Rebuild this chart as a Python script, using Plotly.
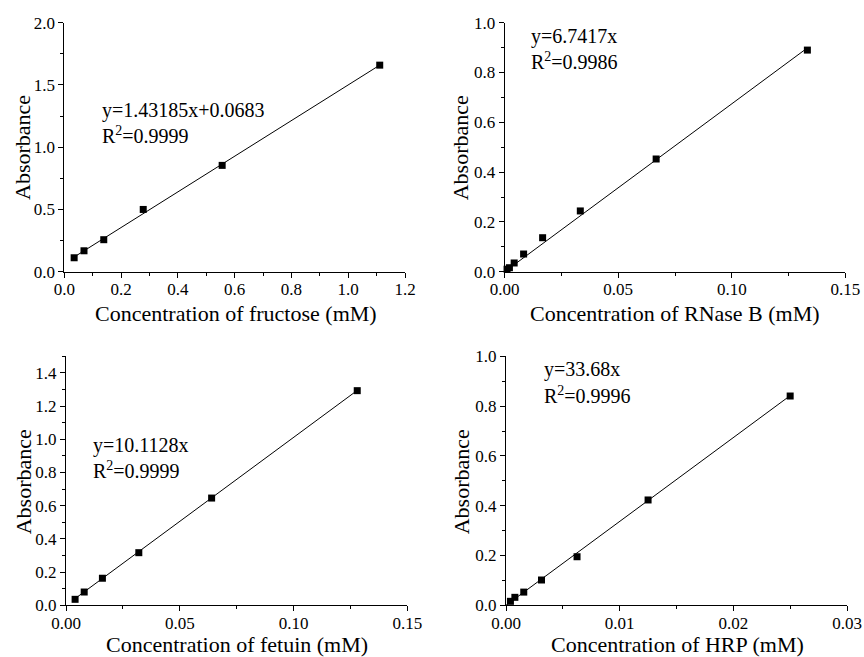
import plotly.graph_objects as go

# Calibration data: concentration (mM) and measured absorbance
fructose_conc = [0.0347, 0.0694, 0.139, 0.278, 0.556, 1.111]
fructose_abs = [0.112, 0.168, 0.257, 0.500, 0.854, 1.659]

rnase_conc = [0.00104, 0.00208, 0.00417, 0.00833, 0.0167, 0.0333, 0.0667, 0.1333]
rnase_abs = [0.010, 0.016, 0.035, 0.071, 0.1365, 0.244, 0.4526, 0.890]

fetuin_conc = [0.004, 0.008, 0.016, 0.032, 0.064, 0.128]
fetuin_abs = [0.036, 0.080, 0.163, 0.317, 0.646, 1.293]

hrp_conc = [0.00039, 0.00078, 0.0015625, 0.003125, 0.00625, 0.0125, 0.025]
hrp_abs = [0.016, 0.032, 0.053, 0.1016, 0.195, 0.423, 0.8405]

# Linear fits: slope, intercept, R^2, line start
fits = {
    "fructose": (1.43185, 0.0683, "0.9999", 0.0347),
    "rnase": (6.7417, 0.0, "0.9986", 0.0),
    "fetuin": (10.1128, 0.0, "0.9999", 0.004),
    "hrp": (33.68, 0.0, "0.9996", 0.0),
}

FONT = "Liberation Serif, Times New Roman, serif"
W, H = 864, 657


def px_x(v):
    return v / W


def px_y(v):
    return 1 - v / H


panels = [
    dict(key="fructose", x=fructose_conc, y=fructose_abs,
         xdom=(64.3, 405), ydom=(22.7, 271.7),
         xr=(0, 1.2), xd=0.2, yr=(0, 2.0), yd=0.5, xfmt=".1f", yfmt=".1f",
         xtitle="Concentration of fructose (mM)",
         eq="y=1.43185x+0.0683", eqpos=(100, 110, 135),
         ytpos=(22, 148), xtpos=(236, 313)),
    dict(key="rnase", x=rnase_conc, y=rnase_abs,
         xdom=(504.7, 845.3), ydom=(22.7, 271.7),
         xr=(0, 0.15), xd=0.05, yr=(0, 1.0), yd=0.2, xfmt=".2f", yfmt=".1f",
         xtitle="Concentration of RNase B (mM)",
         eq="y=6.7417x", eqpos=(528.7, 36.7, 61),
         ytpos=(460.3, 148), xtpos=(674.5, 313)),
    dict(key="fetuin", x=fetuin_conc, y=fetuin_abs,
         xdom=(66, 407.3), ydom=(356.3, 605.3),
         xr=(0, 0.15), xd=0.05, yr=(0, 1.5), yd=0.2, xfmt=".2f", yfmt=".1f",
         xtitle="Concentration of fetuin (mM)",
         eq="y=10.1128x", eqpos=(90.7, 445.3, 469.7),
         ytpos=(23.3, 482), xtpos=(237.2, 644)),
    dict(key="hrp", x=hrp_conc, y=hrp_abs,
         xdom=(506, 847), ydom=(356.3, 605.3),
         xr=(0, 0.03), xd=0.01, yr=(0, 1.0), yd=0.2, xfmt=".2f", yfmt=".1f",
         xtitle="Concentration of HRP (mM)",
         eq="y=33.68x", eqpos=(542, 369.7, 395.3),
         ytpos=(461.3, 482), xtpos=(677, 644)),
]

fig = go.Figure()
layout = dict(
    width=W, height=H,
    margin=dict(l=0, r=0, t=0, b=0, pad=0, autoexpand=False),
    paper_bgcolor="white", plot_bgcolor="white",
    showlegend=False,
    font=dict(family=FONT, color="black"),
)
annotations = []

for i, p in enumerate(panels, start=1):
    xa = "x" if i == 1 else f"x{i}"
    ya = "y" if i == 1 else f"y{i}"
    slope, icpt, r2, x0 = fits[p["key"]]
    x1 = p["x"][-1]
    fig.add_trace(go.Scatter(
        x=[x0, x1], y=[slope * x0 + icpt, slope * x1 + icpt],
        mode="lines", line=dict(color="black", width=1),
        xaxis=xa, yaxis=ya, hoverinfo="skip"))
    fig.add_trace(go.Scatter(
        x=p["x"], y=p["y"], mode="markers",
        marker=dict(symbol="square", size=7, color="black"),
        xaxis=xa, yaxis=ya, cliponaxis=False))

    common = dict(
        showline=True, linecolor="black", linewidth=1,
        ticks="outside", ticklen=5, tickwidth=1, tickcolor="black",
        showgrid=False, zeroline=False, mirror=False, automargin=False,
        tickfont=dict(family=FONT, size=17, color="black"),
    )
    xname = "xaxis" if i == 1 else f"xaxis{i}"
    yname = "yaxis" if i == 1 else f"yaxis{i}"
    layout[xname] = dict(
        common, domain=[px_x(p["xdom"][0]), px_x(p["xdom"][1])],
        range=list(p["xr"]), dtick=p["xd"], tick0=0, tickformat=p["xfmt"],
        anchor=ya, ticklabelstandoff=-3,
        minor=dict(ticks="outside", ticklen=3, tickwidth=1,
                   tickcolor="black", dtick=p["xd"] / 2, showgrid=False),
    )
    layout[yname] = dict(
        common, domain=[px_y(p["ydom"][1]), px_y(p["ydom"][0])],
        range=list(p["yr"]), dtick=p["yd"], tick0=0, tickformat=p["yfmt"],
        anchor=xa,
        minor=dict(ticks="outside", ticklen=3, tickwidth=1,
                   tickcolor="black", dtick=p["yd"] / 2, showgrid=False),
    )

    ex, ey1, ey2 = p["eqpos"]
    annotations.append(dict(
        xref="paper", yref="paper", x=px_x(ex), y=px_y(ey1),
        xanchor="left", yanchor="middle", showarrow=False,
        text=p["eq"], font=dict(family=FONT, size=20, color="black")))
    annotations.append(dict(
        xref="paper", yref="paper", x=px_x(ex), y=px_y(ey2),
        xanchor="left", yanchor="middle", showarrow=False,
        text=f"R<sup>2</sup>={r2}", font=dict(family=FONT, size=20, color="black")))
    annotations.append(dict(
        xref="paper", yref="paper", x=px_x(p["ytpos"][0]), y=px_y(p["ytpos"][1]),
        xanchor="center", yanchor="middle", showarrow=False, textangle=-90,
        text="Absorbance", font=dict(family=FONT, size=22, color="black")))
    annotations.append(dict(
        xref="paper", yref="paper", x=px_x(p["xtpos"][0]), y=px_y(p["xtpos"][1]),
        xanchor="center", yanchor="middle", showarrow=False,
        text=p["xtitle"], font=dict(family=FONT, size=22, color="black")))

layout["annotations"] = annotations
fig.update_layout(**layout)
fig.write_html("out.html")
